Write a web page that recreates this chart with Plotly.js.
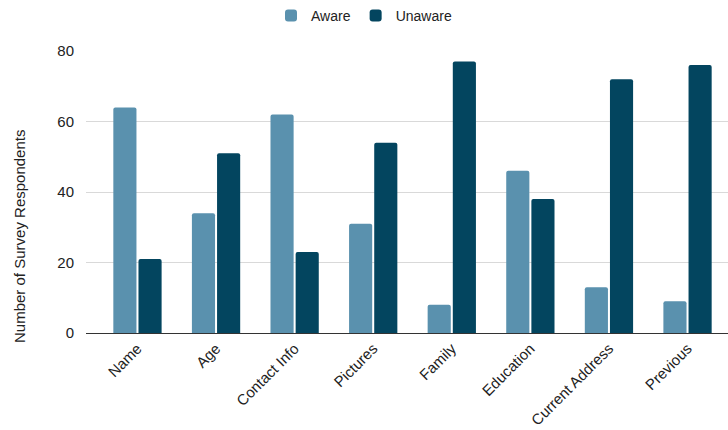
<!DOCTYPE html>
<html>
<head>
<meta charset="utf-8">
<script src="https://cdn.plot.ly/plotly-3.0.1.min.js"></script>
<style>
  html, body { margin: 0; padding: 0; background: #ffffff; }
  #chart { width: 728px; height: 430px; }
</style>
</head>
<body>
<div id="chart"></div>
<script>
// Survey: awareness of what personal information is shared
const categories = ["Name", "Age", "Contact Info", "Pictures", "Family", "Education", "Current Address", "Previous"];
const awareCounts = [64, 34, 62, 31, 8, 46, 13, 9];
const unawareCounts = [21, 51, 23, 54, 77, 38, 72, 76];
const yTicks = [0, 20, 40, 60, 80];

const fontFamily = "Liberation Sans, Arial, sans-serif";

const traces = [
  {
    type: "bar",
    name: "Aware",
    x: categories,
    y: awareCounts,
    marker: { color: "#5a91ae", cornerradius: 2 },
    hoverinfo: "x+y+name"
  },
  {
    type: "bar",
    name: "Unaware",
    x: categories,
    y: unawareCounts,
    marker: { color: "#03455f", cornerradius: 2 },
    hoverinfo: "x+y+name"
  }
];

const layout = {
  width: 728,
  height: 430,
  margin: { l: 86, r: 0, t: 51, b: 97, pad: 0 },
  paper_bgcolor: "#ffffff",
  plot_bgcolor: "#ffffff",
  font: { family: fontFamily, size: 15, color: "#222222" },
  barmode: "group",
  bargap: 0.36,
  bargroupgap: 0.08,
  showlegend: true,
  legend: {
    orientation: "h",
    x: 0.5,
    xref: "container",
    xanchor: "center",
    y: 1,
    yref: "container",
    yanchor: "top",
    font: { family: fontFamily, size: 14, color: "#222222" },
    itemsizing: "constant"
  },
  xaxis: {
    type: "category",
    range: [-0.655, 7.515],
    tickangle: -45,
    tickfont: { family: fontFamily, size: 15, color: "#222222" },
    showgrid: false,
    showline: true,
    linecolor: "#333333",
    linewidth: 1,
    ticks: "",
    automargin: false,
    fixedrange: true
  },
  yaxis: {
    range: [0, 80],
    tickvals: yTicks,
    ticktext: yTicks.map(String),
    tickfont: { family: fontFamily, size: 15, color: "#222222" },
    showgrid: true,
    gridcolor: "#d9d9d9",
    gridwidth: 1,
    zeroline: false,
    showline: false,
    ticks: "outside",
    ticklen: 8,
    tickcolor: "rgba(0,0,0,0)",
    automargin: false,
    fixedrange: true
  },
  annotations: [
    {
      text: "Number of Survey Respondents",
      xref: "paper",
      yref: "paper",
      x: -86 / 642 + 19 / 642,
      y: (333 - 237) / 282,
      xanchor: "center",
      yanchor: "middle",
      textangle: -90,
      showarrow: false,
      font: { family: fontFamily, size: 15, color: "#222222" }
    }
  ]
};

Plotly.newPlot("chart", traces, layout, { staticPlot: true, displayModeBar: false });
</script>
</body>
</html>
